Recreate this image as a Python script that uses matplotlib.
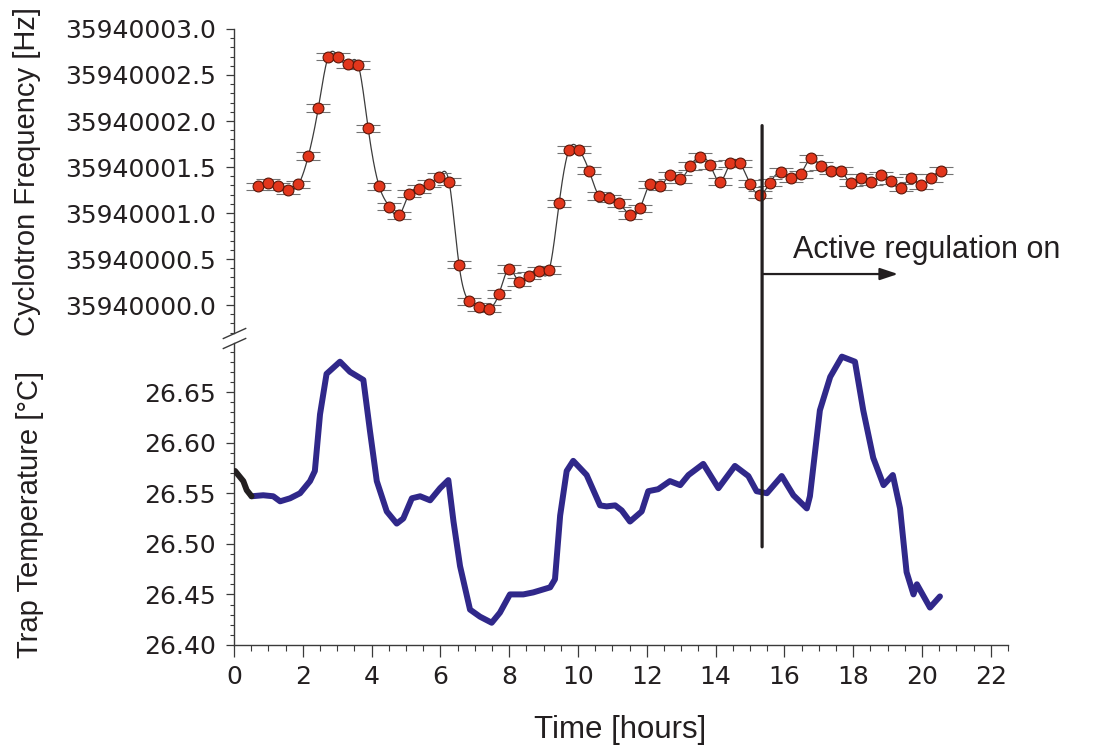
import numpy as np
import matplotlib
matplotlib.use("Agg")
import matplotlib.pyplot as plt
from matplotlib.ticker import MultipleLocator, FuncFormatter
from matplotlib.patches import ConnectionPatch

# ---------------- data ----------------
F0 = 35940000.0  # Hz reference

freq_time = [0.71, 1.00, 1.29, 1.58, 1.87, 2.16, 2.45, 2.74, 3.03, 3.32,
             3.61, 3.90, 4.22, 4.51, 4.80, 5.09, 5.38, 5.67, 5.96, 6.25,
             6.54, 6.83, 7.12, 7.41, 7.70, 7.99, 8.28, 8.58, 8.87, 9.16,
             9.45, 9.74, 10.03, 10.32, 10.61, 10.90, 11.19, 11.51, 11.80, 12.09,
             12.38, 12.67, 12.97, 13.26, 13.55, 13.84, 14.13, 14.42, 14.71, 15.00,
             15.29, 15.58, 15.89, 16.18, 16.47, 16.76, 17.05, 17.35, 17.64, 17.93,
             18.22, 18.51, 18.80, 19.09, 19.38, 19.69, 19.96, 20.25, 20.54]
# offset above F0, Hz
freq_offset = [1.29, 1.33, 1.29, 1.25, 1.31, 1.62, 2.14, 2.70, 2.70, 2.62,
               2.61, 1.92, 1.29, 1.07, 0.975, 1.21, 1.26, 1.32, 1.395, 1.34,
               0.44, 0.04, -0.02, -0.04, 0.12, 0.39, 0.25, 0.32, 0.37, 0.38,
               1.105, 1.69, 1.69, 1.46, 1.185, 1.16, 1.11, 0.98, 1.05, 1.31,
               1.29, 1.41, 1.37, 1.51, 1.61, 1.52, 1.34, 1.54, 1.54, 1.32,
               1.20, 1.33, 1.445, 1.38, 1.42, 1.595, 1.51, 1.46, 1.46, 1.33,
               1.38, 1.34, 1.41, 1.35, 1.275, 1.38, 1.30, 1.38, 1.46]
freq_err = 0.04

temp_time = [0.03, 0.27, 0.37, 0.51, 0.85, 1.14, 1.34, 1.63, 1.92, 2.21,
             2.35, 2.50, 2.69, 3.08, 3.37, 3.76, 3.95, 4.15, 4.44, 4.73,
             4.92, 5.17, 5.41, 5.70, 5.99, 6.23, 6.38, 6.57, 6.86, 7.15,
             7.49, 7.73, 8.02, 8.41, 8.70, 9.19, 9.33, 9.48, 9.67, 9.86,
             10.25, 10.64, 10.83, 11.08, 11.27, 11.51, 11.85, 12.04, 12.33, 12.67,
             12.97, 13.21, 13.64, 14.08, 14.56, 14.95, 15.19, 15.49, 15.92, 16.26,
             16.65, 16.74, 17.03, 17.33, 17.67, 18.05, 18.29, 18.58, 18.88, 19.15,
             19.36, 19.55, 19.75, 19.85, 20.23, 20.52]
temp_value = [26.572, 26.562, 26.553, 26.547, 26.548, 26.547, 26.542, 26.545, 26.550, 26.562,
              26.572, 26.628, 26.668, 26.680, 26.670, 26.662, 26.612, 26.562, 26.532, 26.520,
              26.525, 26.545, 26.547, 26.543, 26.555, 26.563, 26.522, 26.478, 26.435, 26.428,
              26.422, 26.432, 26.450, 26.450, 26.452, 26.457, 26.465, 26.528, 26.572, 26.582,
              26.568, 26.538, 26.537, 26.538, 26.533, 26.522, 26.532, 26.552, 26.554, 26.562,
              26.558, 26.568, 26.579, 26.555, 26.577, 26.567, 26.552, 26.550, 26.567, 26.548,
              26.535, 26.547, 26.632, 26.665, 26.685, 26.680, 26.632, 26.585, 26.558, 26.568,
              26.535, 26.472, 26.450, 26.460, 26.437, 26.448]
warmup_points = 4          # first samples drawn in black

regulation_start = 15.35   # hours
regulation_label = "Active regulation on"

# ---------------- helpers ----------------
def natural_spline(x, y, n=1200):
    x = np.asarray(x, float)
    y = np.asarray(y, float)
    h = np.diff(x)
    m = len(x)
    A = np.zeros((m, m))
    r = np.zeros(m)
    A[0, 0] = A[-1, -1] = 1.0
    for i in range(1, m - 1):
        A[i, i - 1] = h[i - 1]
        A[i, i] = 2 * (h[i - 1] + h[i])
        A[i, i + 1] = h[i]
        r[i] = 6 * ((y[i + 1] - y[i]) / h[i] - (y[i] - y[i - 1]) / h[i - 1])
    M = np.linalg.solve(A, r)
    xs = np.linspace(x[0], x[-1], n)
    k = np.clip(np.searchsorted(x, xs) - 1, 0, m - 2)
    hk = h[k]
    a = (x[k + 1] - xs) / hk
    b = (xs - x[k]) / hk
    ys = a * y[k] + b * y[k + 1] + ((a**3 - a) * M[k] + (b**3 - b) * M[k + 1]) * hk**2 / 6
    return xs, ys

INK = "#231f20"
AXIS = "#3a3a3a"
BLUE = "#30288a"
RED = "#e2361c"
LABEL_FONT = "Liberation Sans"

plt.rcParams["font.family"] = ["DejaVu Sans"]

fig = plt.figure(figsize=(10.93, 7.47), dpi=100)
fig.patch.set_facecolor("white")

left, width = 0.2141, 0.7082
ax_f = fig.add_axes([left, 0.5542, width, 0.4070])
ax_t = fig.add_axes([left, 0.13655, width, 0.4043], sharex=ax_f)

# ---------------- frequency panel ----------------
ft = np.array(freq_time)
fo = np.array(freq_offset)
xs, ys = natural_spline(ft, fo)
ax_f.plot(xs, F0 + ys, color="#3c3c3c", lw=0.9, zorder=2)
ax_f.errorbar(ft, F0 + fo, yerr=freq_err, fmt="o", ms=7.8, mfc=RED, mec="#5a1608",
              mew=0.8, ecolor="#727272", elinewidth=1.0, capsize=8.5, capthick=1.6,
              zorder=3)

ax_f.set_ylim(F0 - 0.304, F0 + 3.0)
ax_f.yaxis.set_major_locator(MultipleLocator(0.5))
ax_f.yaxis.set_minor_locator(MultipleLocator(0.1))
ax_f.yaxis.set_major_formatter(FuncFormatter(lambda v, p: f"{v:.1f}"))
for s in ("top", "right", "bottom"):
    ax_f.spines[s].set_visible(False)
ax_f.tick_params(axis="x", which="both", bottom=False, labelbottom=False)

# ---------------- temperature panel ----------------
tt = np.array(temp_time)
tv = np.array(temp_value)
ax_t.plot(tt[warmup_points - 1:], tv[warmup_points - 1:], color=BLUE, lw=4.3,
          solid_capstyle="round", solid_joinstyle="round", zorder=2)
ax_t.plot(tt[:warmup_points], tv[:warmup_points], color=INK, lw=4.3,
          solid_capstyle="round", solid_joinstyle="round", zorder=3)

ax_t.set_ylim(26.40, 26.6985)
ax_t.yaxis.set_major_locator(MultipleLocator(0.05))
ax_t.yaxis.set_minor_locator(MultipleLocator(0.01))
ax_t.yaxis.set_major_formatter(FuncFormatter(lambda v, p: f"{v:.2f}"))
for s in ("top", "right"):
    ax_t.spines[s].set_visible(False)

ax_t.set_xlim(0, 22.5)
ax_t.xaxis.set_major_locator(MultipleLocator(2))
ax_t.xaxis.set_minor_locator(MultipleLocator(0.5))

# ---------------- shared axis styling ----------------
for ax in (ax_f, ax_t):
    ax.set_facecolor("none")
    for s in ax.spines.values():
        s.set_color(AXIS)
        s.set_linewidth(1.0)
    ax.tick_params(axis="y", which="major", direction="out", length=6, width=0.9,
                   color=AXIS, labelsize=18, labelcolor=INK, pad=7)
    ax.tick_params(axis="y", which="minor", direction="out", length=3, width=0.8,
                   color=AXIS)
ax_t.tick_params(axis="x", which="major", direction="out", length=8.5, width=0.9,
                 color=AXIS, labelsize=18, labelcolor=INK, pad=6)
ax_t.tick_params(axis="x", which="minor", direction="out", length=4.3, width=0.8,
                 color=AXIS)

# axis-break marks on the left spine
brk = dict(marker=[(-1, -0.45), (1, 0.45)], markersize=17, linestyle="none",
           color=AXIS, mec=AXIS, mew=1.0, clip_on=False)
ax_f.plot([0], [0], transform=ax_f.transAxes, **brk)
ax_t.plot([0], [1], transform=ax_t.transAxes, **brk)

# ---------------- regulation marker ----------------
con = ConnectionPatch(xyA=(regulation_start, 26.497), coordsA=ax_t.transData,
                      xyB=(regulation_start, F0 + 1.95), coordsB=ax_f.transData,
                      color=INK, lw=2.3, zorder=5)
fig.add_artist(con)
ax_f.annotate("", xy=(19.3, F0 + 0.337), xytext=(regulation_start, F0 + 0.337),
              arrowprops=dict(arrowstyle="-|>,head_length=0.9,head_width=0.3",
                              mutation_scale=12, lw=1.6, color=INK,
                              shrinkA=0, shrinkB=0))
ax_f.text(16.25, F0 + 0.51, regulation_label, family=LABEL_FONT, fontsize=22,
          color=INK, ha="left", va="baseline")

# ---------------- axis titles ----------------
fig.text(27 / 1093, 1 - 171 / 747, "Cyclotron Frequency [Hz]", family=LABEL_FONT,
         fontsize=21, color=INK, rotation=90, ha="center", va="center")
fig.text(30 / 1093, 1 - 514 / 747, "Trap Temperature [°C]", family=LABEL_FONT,
         fontsize=21, color=INK, rotation=90, ha="center", va="center")
fig.text(620 / 1093, 1 - 738 / 747, "Time [hours]", family=LABEL_FONT,
         fontsize=22.5, color=INK, ha="center", va="baseline")

fig.savefig("out.png", dpi=100, facecolor="white")
